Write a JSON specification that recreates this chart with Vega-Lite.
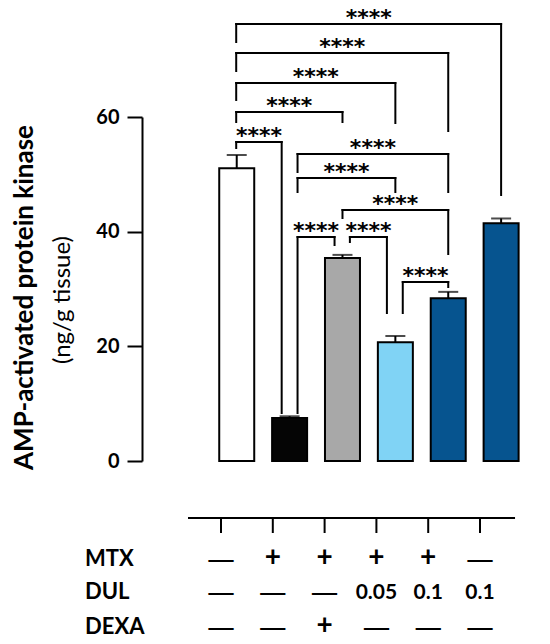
{
  "$schema": "https://vega.github.io/schema/vega-lite/v6.json",
  "width": 408,
  "height": 344,
  "autosize": "none",
  "padding": {"left": 142, "top": 117, "right": 0, "bottom": 183},
  "config": {
    "view": {"stroke": null},
    "font": "Lato",
    "text": {"font": "Lato", "color": "black"}
  },
  "datasets": {
    "groups": [
      {"group": "Control", "pos": 1, "mean": 51.05, "upper": 53.37, "mtx": "—", "dul": "—", "dexa": "—"},
      {"group": "MTX", "pos": 2, "mean": 7.5, "upper": 7.8, "mtx": "+", "dul": "—", "dexa": "—"},
      {"group": "MTX+DEXA", "pos": 3, "mean": 35.4, "upper": 35.95, "mtx": "+", "dul": "—", "dexa": "+"},
      {"group": "MTX+DUL 0.05", "pos": 4, "mean": 20.7, "upper": 21.8, "mtx": "+", "dul": "0.05", "dexa": "—"},
      {"group": "MTX+DUL 0.1", "pos": 5, "mean": 28.4, "upper": 29.5, "mtx": "+", "dul": "0.1", "dexa": "—"},
      {"group": "DUL 0.1", "pos": 6, "mean": 41.46, "upper": 42.3, "mtx": "—", "dul": "0.1", "dexa": "—"}
    ],
    "brackets": [
      {"xl": 0.99, "xr": 6.0, "top": 76.22, "legL": 73.08, "legR": 46.4, "label": "****"},
      {"xl": 0.99, "xr": 5.0, "top": 71.16, "legL": 68.02, "legR": 57.56, "label": "****"},
      {"xl": 0.99, "xr": 4.0, "top": 65.93, "legL": 62.97, "legR": 58.95, "label": "****"},
      {"xl": 0.99, "xr": 3.0, "top": 60.87, "legL": 59.13, "legR": 59.13, "label": "****"},
      {"xl": 0.99, "xr": 1.85, "top": 55.64, "legL": 54.59, "legR": 8.37, "label": "****"},
      {"xl": 2.15, "xr": 5.0, "top": 53.55, "legL": 50.41, "legR": 46.92, "label": "****"},
      {"xl": 2.15, "xr": 4.0, "top": 49.36, "legL": 46.92, "legR": 46.92, "label": "****"},
      {"xl": 3.0, "xr": 5.0, "top": 43.78, "legL": 42.38, "legR": 36.1, "label": "****"},
      {"xl": 2.15, "xr": 2.85, "top": 39.07, "legL": 8.37, "legR": 37.67, "label": "****"},
      {"xl": 3.14, "xr": 3.84, "top": 39.07, "legL": 38.2, "legR": 25.81, "label": "****"},
      {"xl": 4.14, "xr": 5.0, "top": 31.22, "legL": 25.81, "legR": 30.35, "label": "****"}
    ]
  },
  "resolve": {"scale": {"x": "independent"}},
  "layer": [
    {
      "layer": [
        {
          "data": {"name": "groups"},
          "mark": {"type": "bar", "orient": "vertical", "width": 35, "stroke": "black", "strokeWidth": 2},
          "encoding": {
            "x": {"field": "pos", "type": "quantitative", "scale": {"domain": [-0.697, 6.83], "nice": false, "zero": false}, "axis": null},
            "y": {
              "field": "mean",
              "type": "quantitative",
              "scale": {"domain": [0, 60], "nice": false},
              "axis": {
                "values": [0, 20, 40, 60],
                "title": "AMP-activated protein kinase",
                "titleFont": "Lato",
                "titleFontSize": 26,
                "titleFontWeight": "bold",
                "titleColor": "black",
                "titleAngle": 270,
                "titleAlign": "center",
                "titleBaseline": "alphabetic",
                "titleX": -110,
                "titleY": 180,
                "labelFont": "Lato",
                "labelFontSize": 20,
                "labelFontWeight": "bold",
                "labelColor": "black",
                "labelPadding": 8,
                "tickSize": 15,
                "tickWidth": 2,
                "tickColor": "black",
                "domainColor": "black",
                "domainWidth": 2,
                "grid": false
              }
            },
            "color": {
              "field": "group",
              "type": "nominal",
              "scale": {
                "domain": ["Control", "MTX", "MTX+DEXA", "MTX+DUL 0.05", "MTX+DUL 0.1", "DUL 0.1"],
                "range": ["#ffffff", "#050505", "#a8a8a8", "#80d3f5", "#06548f", "#06548f"]
              },
              "legend": null
            }
          }
        },
        {
          "data": {"name": "groups"},
          "mark": {"type": "rule", "strokeWidth": 2, "color": "black"},
          "encoding": {
            "x": {"field": "pos", "type": "quantitative", "axis": null},
            "y": {"field": "mean", "type": "quantitative"},
            "y2": {"field": "upper"}
          }
        },
        {
          "data": {"name": "groups"},
          "mark": {"type": "tick", "orient": "horizontal", "size": 20, "thickness": 2, "color": "black"},
          "encoding": {
            "x": {"field": "pos", "type": "quantitative", "axis": null},
            "y": {"field": "upper", "type": "quantitative"}
          }
        },
        {
          "data": {"name": "brackets"},
          "mark": {"type": "rule", "strokeWidth": 2, "color": "black", "strokeCap": "square"},
          "encoding": {
            "x": {"field": "xl", "type": "quantitative", "axis": null},
            "x2": {"field": "xr"},
            "y": {"field": "top", "type": "quantitative"}
          }
        },
        {
          "data": {"name": "brackets"},
          "mark": {"type": "rule", "strokeWidth": 2, "color": "black", "strokeCap": "square"},
          "encoding": {
            "x": {"field": "xl", "type": "quantitative", "axis": null},
            "y": {"field": "top", "type": "quantitative"},
            "y2": {"field": "legL"}
          }
        },
        {
          "data": {"name": "brackets"},
          "mark": {"type": "rule", "strokeWidth": 2, "color": "black", "strokeCap": "square"},
          "encoding": {
            "x": {"field": "xr", "type": "quantitative", "axis": null},
            "y": {"field": "top", "type": "quantitative"},
            "y2": {"field": "legR"}
          }
        },
        {
          "data": {"name": "brackets"},
          "transform": [{"calculate": "(datum.xl + datum.xr) / 2", "as": "mid"}],
          "mark": {"type": "text", "font": "DejaVu Sans", "fontSize": 22, "fontWeight": "bold", "align": "center", "baseline": "alphabetic", "dy": 1},
          "encoding": {
            "x": {"field": "mid", "type": "quantitative", "axis": null},
            "y": {"field": "top", "type": "quantitative"},
            "text": {"field": "label"}
          }
        },
        {
          "data": {"values": [{"unit": "(ng/g tissue)"}]},
          "mark": {"type": "text", "fontSize": 24, "fontWeight": "normal", "angle": 270, "align": "center", "baseline": "alphabetic"},
          "encoding": {
            "x": {"datum": -2.155, "type": "quantitative", "axis": null},
            "y": {"datum": 28.08, "type": "quantitative"},
            "text": {"field": "unit"}
          }
        }
      ]
    },
    {
      "data": {"name": "groups"},
      "layer": [
        {
          "data": {"values": [{}]},
          "mark": {"type": "rule", "strokeWidth": 2, "color": "black"},
          "encoding": {
            "x": {"datum": 0.363, "type": "quantitative", "scale": {"domain": [-0.525, 7.351], "nice": false, "zero": false}, "axis": null},
            "x2": {"datum": 6.676},
            "y": {"datum": -9.94, "type": "quantitative"}
          }
        },
        {
          "mark": {"type": "rule", "strokeWidth": 2, "color": "black"},
          "encoding": {
            "x": {"field": "pos", "type": "quantitative", "axis": null},
            "y": {"datum": -9.94, "type": "quantitative"},
            "y2": {"datum": -12.56}
          }
        },
        {
          "transform": [{"filter": "datum.mtx != '—'"}],
          "mark": {"type": "text", "fontWeight": "bold", "align": "center", "baseline": "alphabetic"},
          "encoding": {
            "x": {"field": "pos", "type": "quantitative", "axis": null},
            "y": {"datum": -18.31, "type": "quantitative"},
            "text": {"field": "mtx"},
            "size": {"condition": {"test": "datum.mtx == '+'", "value": 28}, "value": 21}
          }
        },
        {
          "transform": [{"filter": "datum.mtx == '—'"}],
          "mark": {"type": "text", "font": "DejaVu Sans", "fontSize": 28, "align": "center", "baseline": "alphabetic", "dy": 3},
          "encoding": {
            "x": {"field": "pos", "type": "quantitative", "axis": null},
            "y": {"datum": -18.31, "type": "quantitative"},
            "text": {"field": "mtx"}
          }
        },
        {
          "transform": [{"filter": "datum.dul != '—'"}],
          "mark": {"type": "text", "fontWeight": "bold", "align": "center", "baseline": "alphabetic"},
          "encoding": {
            "x": {"field": "pos", "type": "quantitative", "axis": null},
            "y": {"datum": -24.07, "type": "quantitative"},
            "text": {"field": "dul"},
            "size": {"condition": {"test": "datum.dul == '+'", "value": 28}, "value": 21}
          }
        },
        {
          "transform": [{"filter": "datum.dul == '—'"}],
          "mark": {"type": "text", "font": "DejaVu Sans", "fontSize": 28, "align": "center", "baseline": "alphabetic", "dy": 3},
          "encoding": {
            "x": {"field": "pos", "type": "quantitative", "axis": null},
            "y": {"datum": -24.07, "type": "quantitative"},
            "text": {"field": "dul"}
          }
        },
        {
          "transform": [{"filter": "datum.dexa != '—'"}],
          "mark": {"type": "text", "fontWeight": "bold", "align": "center", "baseline": "alphabetic"},
          "encoding": {
            "x": {"field": "pos", "type": "quantitative", "axis": null},
            "y": {"datum": -30.17, "type": "quantitative"},
            "text": {"field": "dexa"},
            "size": {"condition": {"test": "datum.dexa == '+'", "value": 28}, "value": 21}
          }
        },
        {
          "transform": [{"filter": "datum.dexa == '—'"}],
          "mark": {"type": "text", "font": "DejaVu Sans", "fontSize": 28, "align": "center", "baseline": "alphabetic", "dy": 3},
          "encoding": {
            "x": {"field": "pos", "type": "quantitative", "axis": null},
            "y": {"datum": -30.17, "type": "quantitative"},
            "text": {"field": "dexa"}
          }
        },
        {
          "data": {"values": [{"row": "MTX"}]},
          "mark": {"type": "text", "fontSize": 22, "fontWeight": "bold", "align": "left", "baseline": "alphabetic"},
          "encoding": {
            "x": {"datum": -1.625, "type": "quantitative", "axis": null},
            "y": {"datum": -18.31, "type": "quantitative"},
            "text": {"field": "row"}
          }
        },
        {
          "data": {"values": [{"row": "DUL"}]},
          "mark": {"type": "text", "fontSize": 22, "fontWeight": "bold", "align": "left", "baseline": "alphabetic"},
          "encoding": {
            "x": {"datum": -1.625, "type": "quantitative", "axis": null},
            "y": {"datum": -24.07, "type": "quantitative"},
            "text": {"field": "row"}
          }
        },
        {
          "data": {"values": [{"row": "DEXA"}]},
          "mark": {"type": "text", "fontSize": 22, "fontWeight": "bold", "align": "left", "baseline": "alphabetic"},
          "encoding": {
            "x": {"datum": -1.625, "type": "quantitative", "axis": null},
            "y": {"datum": -30.17, "type": "quantitative"},
            "text": {"field": "row"}
          }
        }
      ]
    }
  ]
}
